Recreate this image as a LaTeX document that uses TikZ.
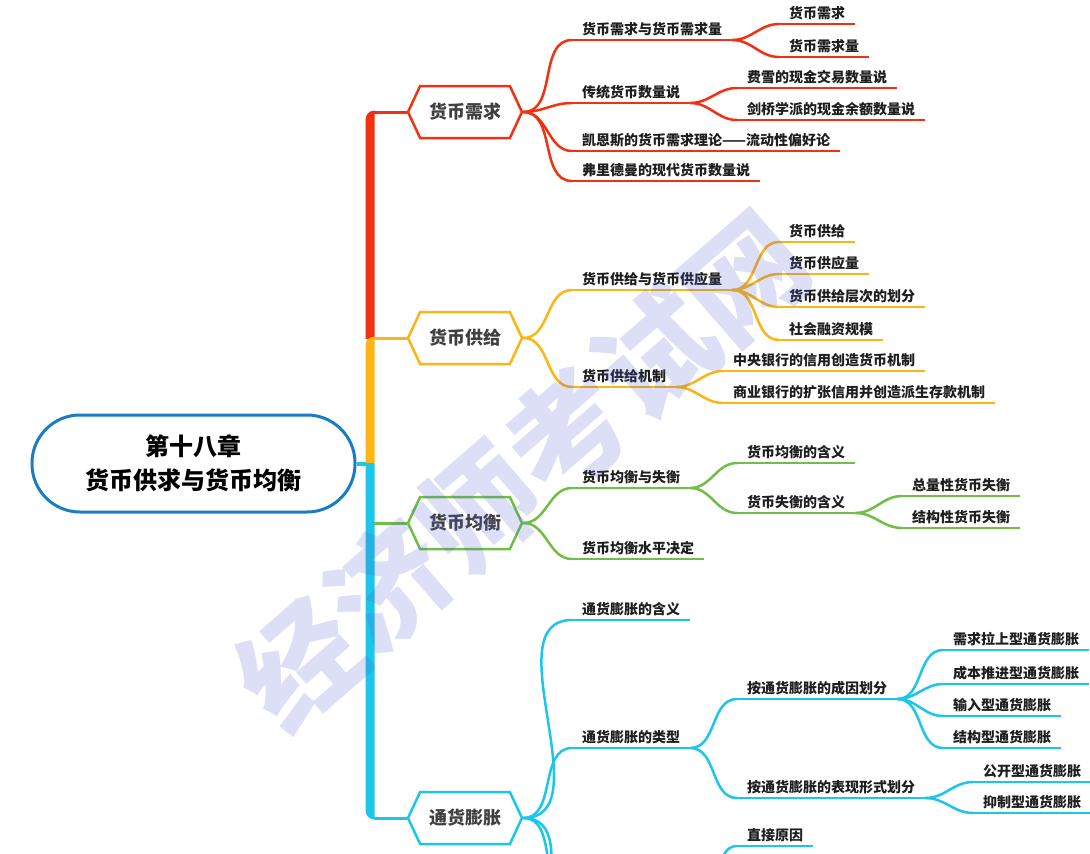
\documentclass[tikz,border=0pt]{standalone}
\usepackage{fontspec}
\setmainfont{Noto Sans CJK SC}
\usepackage{tikz}
\usetikzlibrary{shapes.symbols}
\definecolor{mmred}{RGB}{242,48,18}
\definecolor{mmorange}{RGB}{252,180,22}
\definecolor{mmgreen}{RGB}{112,190,72}
\definecolor{mmcyan}{RGB}{28,198,234}
\definecolor{mmblue}{RGB}{26,124,194}
\definecolor{mmtext}{RGB}{30,30,30}
\definecolor{mmmark}{RGB}{80,95,210}

\begin{document}
\begin{tikzpicture}[x=1pt,y=1pt,every node/.style={font=\bfseries,text=mmtext},
  topic/.style={signal,signal to=east and west,signal pointer angle=130,draw=#1,line width=2.5pt,fill=white,
    minimum width=114pt,minimum height=52pt,inner sep=0pt,font=\bfseries\fontsize{18}{18}\selectfont,text=mmtext!85},
  leaf/.style={anchor=south west,inner xsep=10pt,inner ysep=0pt,text depth=5pt,font=\bfseries\fontsize{14}{14}\selectfont,
    append after command={(\tikzlastnode.south west) edge[line width=2.5pt,draw=#1] (\tikzlastnode.south east)}},
  branch/.style={line width=2.5pt,draw=#1}]
\useasboundingbox (0,0) rectangle (1090,-854);
\clip (0,0) rectangle (1090,-854);
\fill[white] (0,0) rectangle (1090,-854);

\node[draw=mmblue,line width=3pt,rounded corners=48pt,minimum width=323pt,minimum height=97pt,align=center,
  font=\bfseries\fontsize{24}{34}\selectfont,text=black] (root) at (193.5,-463.5) {第十八章\\货币供求与货币均衡};

\fill[mmred] (365.5,-339) -- (365.5,-119.5) arc[start angle=180,end angle=90,radius=9] -- (374.5,-339) -- cycle;
\fill[mmorange] (365.5,-463) -- (365.5,-345.5) arc[start angle=180,end angle=90,radius=9] -- (374.5,-463) -- cycle;
\fill[mmcyan] (365.5,-463) -- (365.5,-810.5) arc[start angle=180,end angle=270,radius=9] -- (374.5,-463) -- cycle;
\coordinate (troot) at (366,-463.5);
\coordinate (ta) at (374,-112);
\coordinate (tb) at (374,-338);
\coordinate (tc) at (374,-523);
\coordinate (td) at (374,-818);
\draw[mmcyan,line width=4pt] (root.east) -- (troot);

\node[topic=mmred] (a) at (465,-112) {货币需求};
\node[topic=mmorange] (b) at (465,-338) {货币供给};
\node[topic=mmgreen] (c) at (465,-523) {货币均衡};
\node[topic=mmcyan] (d) at (465,-818) {通货膨胀};
\draw[mmred,line width=3pt] (ta) -- (a.west);
\draw[mmorange,line width=3pt] (tb) -- (b.west);
\draw[mmgreen,line width=3pt] (tc) -- (c.west);
\draw[mmcyan,line width=3pt] (td) -- (d.west);

\node[leaf=mmred] (a1) at (572,-40) {货币需求与货币需求量};
\node[leaf=mmred] (a2) at (572,-103) {传统货币数量说};
\node[leaf=mmred] (a3) at (572,-151) {凯恩斯的货币需求理论——流动性偏好论};
\node[leaf=mmred] (a4) at (572,-181) {弗里德曼的现代货币数量说};
\node[leaf=mmred] (a11) at (779,-24) {货币需求};
\node[leaf=mmred] (a12) at (779,-57) {货币需求量};
\node[leaf=mmred] (a21) at (737,-88) {费雪的现金交易数量说};
\node[leaf=mmred] (a22) at (737,-120) {剑桥学派的现金余额数量说};
\draw[branch=mmred] (a.east) to[out=0,in=180] (a1.south west);
\draw[branch=mmred] (a.east) to[out=0,in=180] (a2.south west);
\draw[branch=mmred] (a.east) to[out=0,in=180] (a3.south west);
\draw[branch=mmred] (a.east) to[out=0,in=180] (a4.south west);
\draw[branch=mmred] (a1.south east) to[out=0,in=180] (a11.south west);
\draw[branch=mmred] (a1.south east) to[out=0,in=180] (a12.south west);
\draw[branch=mmred] (a2.south east) to[out=0,in=180] (a21.south west);
\draw[branch=mmred] (a2.south east) to[out=0,in=180] (a22.south west);

\node[leaf=mmorange] (b1) at (572,-290) {货币供给与货币供应量};
\node[leaf=mmorange] (b2) at (572,-387) {货币供给机制};
\node[leaf=mmorange] (b11) at (779,-242) {货币供给};
\node[leaf=mmorange] (b12) at (779,-274) {货币供应量};
\node[leaf=mmorange] (b13) at (779,-307) {货币供给层次的划分};
\node[leaf=mmorange] (b14) at (779,-340) {社会融资规模};
\node[leaf=mmorange] (b21) at (723,-371) {中央银行的信用创造货币机制};
\node[leaf=mmorange] (b22) at (723,-403) {商业银行的扩张信用并创造派生存款机制};
\draw[branch=mmorange] (b.east) to[out=0,in=180] (b1.south west);
\draw[branch=mmorange] (b.east) to[out=0,in=180] (b2.south west);
\draw[branch=mmorange] (b1.south east) to[out=0,in=180] (b11.south west);
\draw[branch=mmorange] (b1.south east) to[out=0,in=180] (b12.south west);
\draw[branch=mmorange] (b1.south east) to[out=0,in=180] (b13.south west);
\draw[branch=mmorange] (b1.south east) to[out=0,in=180] (b14.south west);
\draw[branch=mmorange] (b2.south east) to[out=0,in=180] (b21.south west);
\draw[branch=mmorange] (b2.south east) to[out=0,in=180] (b22.south west);

\node[leaf=mmgreen] (c1) at (572,-488) {货币均衡与失衡};
\node[leaf=mmgreen] (c2) at (572,-559) {货币均衡水平决定};
\node[leaf=mmgreen] (c11) at (737,-463) {货币均衡的含义};
\node[leaf=mmgreen] (c12) at (737,-513) {货币失衡的含义};
\node[leaf=mmgreen] (c121) at (902,-496) {总量性货币失衡};
\node[leaf=mmgreen] (c122) at (902,-528) {结构性货币失衡};
\draw[branch=mmgreen] (c.east) to[out=0,in=180] (c1.south west);
\draw[branch=mmgreen] (c.east) to[out=0,in=180] (c2.south west);
\draw[branch=mmgreen] (c1.south east) to[out=0,in=180] (c11.south west);
\draw[branch=mmgreen] (c1.south east) to[out=0,in=180] (c12.south west);
\draw[branch=mmgreen] (c12.south east) to[out=0,in=180] (c121.south west);
\draw[branch=mmgreen] (c12.south east) to[out=0,in=180] (c122.south west);

\node[leaf=mmcyan] (d1) at (572,-620) {通货膨胀的含义};
\node[leaf=mmcyan] (d2) at (572,-748) {通货膨胀的类型};
\coordinate (d3) at (572,-895);
\coordinate (d4) at (572,-990);
\coordinate (d3e) at (700,-895);
\node[leaf=mmcyan] (d21) at (737,-699) {按通货膨胀的成因划分};
\node[leaf=mmcyan] (d22) at (737,-798) {按通货膨胀的表现形式划分};
\node[leaf=mmcyan] (d211) at (943,-650) {需求拉上型通货膨胀};
\node[leaf=mmcyan] (d212) at (943,-684) {成本推进型通货膨胀};
\node[leaf=mmcyan] (d213) at (943,-716) {输入型通货膨胀};
\node[leaf=mmcyan] (d214) at (943,-748) {结构型通货膨胀};
\node[leaf=mmcyan] (d221) at (973,-782) {公开型通货膨胀};
\node[leaf=mmcyan] (d222) at (973,-813) {抑制型通货膨胀};
\node[leaf=mmcyan] (d31) at (737,-846) {直接原因};
\draw[branch=mmcyan] (d.east) to[out=0,in=180] (d1.south west);
\draw[branch=mmcyan] (d.east) to[out=0,in=180] (d2.south west);
\draw[branch=mmcyan] (d.east) to[out=0,in=180] (d3);
\draw[branch=mmcyan] (d.east) to[out=0,in=180] (d4);
\draw[branch=mmcyan] (d2.south east) to[out=0,in=180] (d21.south west);
\draw[branch=mmcyan] (d2.south east) to[out=0,in=180] (d22.south west);
\draw[branch=mmcyan] (d21.south east) to[out=0,in=180] (d211.south west);
\draw[branch=mmcyan] (d21.south east) to[out=0,in=180] (d212.south west);
\draw[branch=mmcyan] (d21.south east) to[out=0,in=180] (d213.south west);
\draw[branch=mmcyan] (d21.south east) to[out=0,in=180] (d214.south west);
\draw[branch=mmcyan] (d22.south east) to[out=0,in=180] (d221.south west);
\draw[branch=mmcyan] (d22.south east) to[out=0,in=180] (d222.south west);
\draw[branch=mmcyan] (d3e) to[out=0,in=180] (d31.south west);

\node[rotate=41,text=mmmark,opacity=0.2,font=\bfseries\fontsize{118}{118}\selectfont] (mark) at (522,-470) {经济师考试网};
\end{tikzpicture}
\end{document}
